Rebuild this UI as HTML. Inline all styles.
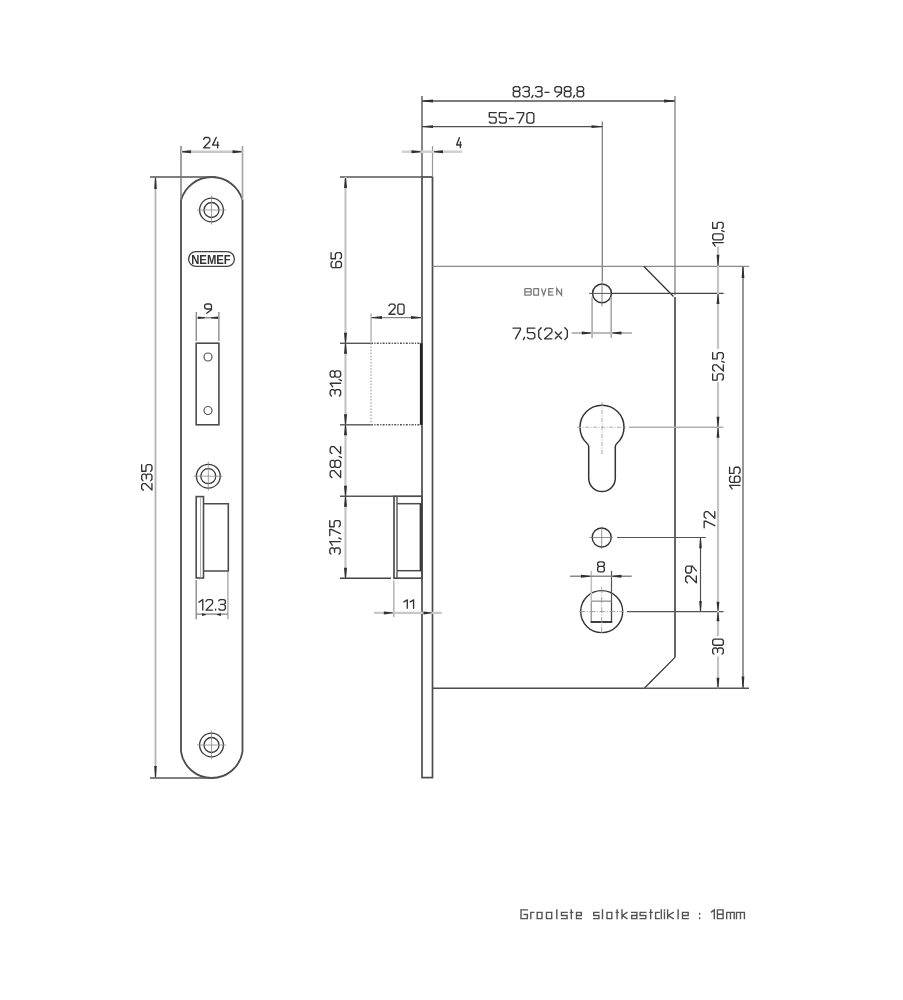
<!DOCTYPE html>
<html><head><meta charset="utf-8"><style>
html,body{margin:0;padding:0;background:#fff;width:903px;height:1000px;overflow:hidden}
svg{display:block;will-change:transform}
text{font-family:"Liberation Sans",sans-serif}
</style></head><body>
<svg width="903" height="1000" viewBox="0 0 903 1000" font-family="Liberation Sans, sans-serif">
<path d="M181,751.55 L181,200.14 A32,32 0 0 1 242.5,200.14 L242.5,751.55 A31.1,31.1 0 0 1 181,751.55 Z" fill="none" stroke="#4c4c4c" stroke-width="1.8" />
<circle cx="211.5" cy="210" r="11.9" fill="none" stroke="#3a3a3a" stroke-width="1.3" />
<circle cx="211.5" cy="210" r="7.5" fill="none" stroke="#3a3a3a" stroke-width="1.3" />
<line x1="197.0" y1="210" x2="226.0" y2="210" stroke="#8a8a8a" stroke-width="0.8" />
<line x1="211.5" y1="195.5" x2="211.5" y2="224.5" stroke="#8a8a8a" stroke-width="0.8" />
<circle cx="208.3" cy="476.2" r="11.9" fill="none" stroke="#3a3a3a" stroke-width="1.3" />
<circle cx="208.3" cy="476.2" r="7.5" fill="none" stroke="#3a3a3a" stroke-width="1.3" />
<line x1="193.8" y1="476.2" x2="222.8" y2="476.2" stroke="#8a8a8a" stroke-width="0.8" />
<line x1="208.3" y1="461.7" x2="208.3" y2="490.7" stroke="#8a8a8a" stroke-width="0.8" />
<circle cx="211.5" cy="745" r="11.9" fill="none" stroke="#3a3a3a" stroke-width="1.3" />
<circle cx="211.5" cy="745" r="7.5" fill="none" stroke="#3a3a3a" stroke-width="1.3" />
<line x1="197.0" y1="745" x2="226.0" y2="745" stroke="#8a8a8a" stroke-width="0.8" />
<line x1="211.5" y1="730.5" x2="211.5" y2="759.5" stroke="#8a8a8a" stroke-width="0.8" />
<rect x="188.6" y="251.6" width="45.8" height="14.8" rx="7.4" fill="none" stroke="#444" stroke-width="1.3"/>
<text x="191.16" y="263.8" font-size="12.61" fill="#333" font-weight="bold" textLength="39.63" lengthAdjust="spacingAndGlyphs" >NEMEF</text>
<rect x="196.2" y="343.2" width="22.7" height="81.6" fill="none" stroke="#4c4c4c" stroke-width="1.6"/>
<circle cx="208" cy="357" r="4" fill="none" stroke="#555" stroke-width="1.2" />
<circle cx="208" cy="410.5" r="4" fill="none" stroke="#555" stroke-width="1.2" />
<line x1="196.3" y1="312" x2="196.3" y2="341" stroke="#8c8c8c" stroke-width="1.4" />
<line x1="218.9" y1="312" x2="218.9" y2="341" stroke="#8c8c8c" stroke-width="1.4" />
<line x1="196.3" y1="317.8" x2="218.9" y2="317.8" stroke="#8c8c8c" stroke-width="1.4" />
<polygon points="205.00,317.35 198.00,316.50 198.00,319.10 205.00,318.25" fill="#303030"/>
<polygon points="211.00,317.35 218.00,316.50 218.00,319.10 211.00,318.25" fill="#303030"/>
<path d="M211.43,308.97 L206.16,308.97 L204.68,307.86 L204.68,305.09 L206.16,303.98 L209.94,303.98 L211.43,305.09 L211.43,309.71 L206.70,313.22" fill="none" stroke="#333" stroke-width="1.35" stroke-linejoin="round" stroke-linecap="round"/>
<rect x="196.2" y="496.6" width="7.3" height="81.4" fill="none" stroke="#4c4c4c" stroke-width="1.6"/>
<line x1="200.5" y1="497" x2="200.5" y2="577.5" stroke="#aaa" stroke-width="0.9" />
<path d="M203.5,503.7 L228.3,503.7 L228.3,571 L203.5,571" fill="none" stroke="#4c4c4c" stroke-width="1.6" />
<line x1="196.2" y1="580" x2="196.2" y2="619.3" stroke="#8c8c8c" stroke-width="1.4" />
<line x1="227.9" y1="572" x2="227.9" y2="619.3" stroke="#aaa" stroke-width="1.4" />
<line x1="196.2" y1="614.1" x2="227.9" y2="614.1" stroke="#8c8c8c" stroke-width="1.4" />
<polygon points="206.00,614.15 202.00,613.30 202.00,615.90 206.00,615.05" fill="#303030"/>
<polygon points="217.00,614.15 221.00,613.30 221.00,615.90 217.00,615.05" fill="#303030"/>
<path d="M198.98,602.11 L202.78,599.57 L202.78,610.12 M206.00,601.37 L207.44,599.57 L211.12,599.57 L212.56,600.84 L212.56,603.37 L206.00,610.12 L212.56,610.12 M215.66,609.07 L215.66,610.12 M218.76,600.84 L220.21,599.57 L223.88,599.57 L225.33,600.84 L225.33,603.16 L223.88,604.43 L220.73,604.43 M223.88,604.43 L225.33,605.69 L225.33,608.86 L223.88,610.12 L220.21,610.12 L218.76,608.86" fill="none" stroke="#333" stroke-width="1.35" stroke-linejoin="round" stroke-linecap="round"/>
<line x1="155.5" y1="177" x2="155.5" y2="778" stroke="#b4b4b4" stroke-width="1.8" />
<line x1="150" y1="177" x2="216" y2="177" stroke="#555" stroke-width="1.5" />
<line x1="150" y1="778" x2="214" y2="778" stroke="#555" stroke-width="1.5" />
<polygon points="155.05,178.00 154.20,189.00 156.80,189.00 155.95,178.00" fill="#303030"/>
<polygon points="155.05,777.00 154.20,766.00 156.80,766.00 155.95,777.00" fill="#303030"/>
<path d="M143.42,490.12 L141.68,488.69 L141.68,485.04 L142.91,483.60 L145.37,483.60 L151.93,490.12 L151.93,483.60 M142.91,480.66 L141.68,479.23 L141.68,475.57 L142.91,474.14 L145.16,474.14 L146.39,475.57 L146.39,478.71 M146.39,475.57 L147.62,474.14 L150.69,474.14 L151.93,475.57 L151.93,479.23 L150.69,480.66 M141.68,464.68 L141.68,471.20 L145.98,471.20 L145.98,466.11 L147.21,464.68 L150.69,464.68 L151.93,466.11 L151.93,469.76 L150.69,471.20" fill="none" stroke="#333" stroke-width="1.35" stroke-linejoin="round" stroke-linecap="round"/>
<line x1="181" y1="146" x2="181" y2="200" stroke="#777" stroke-width="1.4" />
<line x1="242.5" y1="146" x2="242.5" y2="200" stroke="#aaa" stroke-width="1.8" />
<line x1="181" y1="151.8" x2="242.5" y2="151.8" stroke="#c8c8c8" stroke-width="2.4" />
<polygon points="182.00,151.35 191.00,150.30 191.00,153.30 182.00,152.25" fill="#303030"/>
<polygon points="241.50,151.35 232.50,150.30 232.50,153.30 241.50,152.25" fill="#303030"/>
<path d="M203.68,139.23 L205.03,137.48 L208.47,137.48 L209.82,138.72 L209.82,141.20 L203.68,147.83 L209.82,147.83 M216.27,137.48 L212.58,145.13 L218.73,145.13 M217.62,141.82 L217.62,147.83" fill="none" stroke="#333" stroke-width="1.35" stroke-linejoin="round" stroke-linecap="round"/>
<rect x="422" y="177" width="10.5" height="600.6" fill="none" stroke="#4c4c4c" stroke-width="1.7"/>
<line x1="340" y1="177" x2="422" y2="177" stroke="#555" stroke-width="1.5" />
<line x1="422" y1="96" x2="422" y2="177" stroke="#555" stroke-width="1.4" />
<line x1="432.5" y1="146" x2="432.5" y2="177" stroke="#999" stroke-width="1.2" />
<line x1="402" y1="151.7" x2="462" y2="151.7" stroke="#d0d0d0" stroke-width="2.6" />
<polygon points="420.50,151.25 411.50,150.20 411.50,153.20 420.50,152.15" fill="#303030"/>
<polygon points="434.00,151.25 443.00,150.20 443.00,153.20 434.00,152.15" fill="#303030"/>
<path d="M459.37,137.68 L456.57,144.96 L461.22,144.96 M460.39,141.81 L460.39,147.53" fill="none" stroke="#333" stroke-width="1.35" stroke-linejoin="round" stroke-linecap="round"/>
<line x1="675" y1="96" x2="675" y2="295" stroke="#777" stroke-width="1.2" />
<line x1="422" y1="101" x2="675" y2="101" stroke="#505050" stroke-width="1.4" />
<polygon points="423.00,100.55 433.00,99.60 433.00,102.40 423.00,101.45" fill="#303030"/>
<polygon points="674.00,100.55 664.00,99.60 664.00,102.40 674.00,101.45" fill="#303030"/>
<path d="M514.71,86.67 L518.37,86.67 L519.81,87.89 L519.81,90.02 L518.37,91.24 L514.71,91.24 L513.27,90.02 L513.27,87.89 L514.71,86.67 M514.71,91.24 L513.27,92.46 L513.27,95.61 L514.71,96.83 L518.37,96.83 L519.81,95.61 L519.81,92.46 L518.37,91.24 M522.76,87.89 L524.19,86.67 L527.85,86.67 L529.29,87.89 L529.29,90.13 L527.85,91.34 L524.72,91.34 M527.85,91.34 L529.29,92.56 L529.29,95.61 L527.85,96.83 L524.19,96.83 L522.76,95.61 M532.97,95.40 L531.79,97.64 M535.47,87.89 L536.91,86.67 L540.57,86.67 L542.01,87.89 L542.01,90.13 L540.57,91.34 L537.43,91.34 M540.57,91.34 L542.01,92.56 L542.01,95.61 L540.57,96.83 L536.91,96.83 L535.47,95.61 M544.95,92.36 L549.01,92.36 M561.43,92.16 L556.33,92.16 L554.89,90.94 L554.89,87.89 L556.33,86.67 L559.99,86.67 L561.43,87.89 L561.43,92.97 L556.85,96.83 M565.81,86.67 L569.47,86.67 L570.91,87.89 L570.91,90.02 L569.47,91.24 L565.81,91.24 L564.37,90.02 L564.37,87.89 L565.81,86.67 M565.81,91.24 L564.37,92.46 L564.37,95.61 L565.81,96.83 L569.47,96.83 L570.91,95.61 L570.91,92.46 L569.47,91.24 M574.59,95.40 L573.41,97.64 M578.53,86.67 L582.19,86.67 L583.62,87.89 L583.62,90.02 L582.19,91.24 L578.53,91.24 L577.09,90.02 L577.09,87.89 L578.53,86.67 M578.53,91.24 L577.09,92.46 L577.09,95.61 L578.53,96.83 L582.19,96.83 L583.62,95.61 L583.62,92.46 L582.19,91.24" fill="none" stroke="#333" stroke-width="1.35" stroke-linejoin="round" stroke-linecap="round"/>
<line x1="602.3" y1="121.5" x2="602.3" y2="281" stroke="#777" stroke-width="1.2" />
<line x1="422" y1="126.6" x2="602.3" y2="126.6" stroke="#505050" stroke-width="1.4" />
<polygon points="423.00,126.15 433.00,125.20 433.00,128.00 423.00,127.05" fill="#303030"/>
<polygon points="601.50,126.15 591.50,125.20 591.50,128.00 601.50,127.05" fill="#303030"/>
<path d="M496.21,112.67 L489.28,112.67 L489.28,117.06 L494.69,117.06 L496.21,118.32 L496.21,121.87 L494.69,123.12 L490.80,123.12 L489.28,121.87 M506.28,112.67 L499.34,112.67 L499.34,117.06 L504.75,117.06 L506.28,118.32 L506.28,121.87 L504.75,123.12 L500.86,123.12 L499.34,121.87 M509.40,118.53 L513.70,118.53 M516.82,112.67 L523.76,112.67 L523.76,114.14 L519.04,123.12 M528.41,112.67 L532.30,112.67 L533.83,113.93 L533.83,121.87 L532.30,123.12 L528.41,123.12 L526.89,121.87 L526.89,113.93 L528.41,112.67" fill="none" stroke="#333" stroke-width="1.35" stroke-linejoin="round" stroke-linecap="round"/>
<line x1="432.5" y1="266.3" x2="749" y2="266.3" stroke="#8a8a8a" stroke-width="1.3" />
<line x1="643.7" y1="266.3" x2="673.5" y2="296.5" stroke="#333" stroke-width="1.25" />
<line x1="675" y1="297" x2="675" y2="657.4" stroke="#4c4c4c" stroke-width="1.7" />
<line x1="675" y1="657.4" x2="644.3" y2="688.3" stroke="#333" stroke-width="1.25" />
<line x1="432.5" y1="688.3" x2="644.3" y2="688.3" stroke="#4c4c4c" stroke-width="1.6" />
<circle cx="602" cy="293.4" r="9.4" fill="none" stroke="#333" stroke-width="1.5" />
<line x1="602" y1="281" x2="602" y2="306.5" stroke="#777" stroke-width="0.9" />
<line x1="589" y1="293.4" x2="611.5" y2="293.4" stroke="#555" stroke-width="1.0" />
<line x1="611.5" y1="293.4" x2="723.6" y2="293.4" stroke="#444" stroke-width="1.4" />
<path d="M524.85,288.55 L530.35,288.55 L531.15,289.35 L531.15,291.25 L530.55,291.85 L524.85,291.85 M524.85,288.55 L524.85,295.15 L530.35,295.15 L531.15,294.35 L531.15,292.45 L530.55,291.85 M533.75,288.55 L538.45,288.55 L538.45,295.15 L533.75,295.15 L533.75,288.55 M541.45,288.55 L543.70,295.15 L545.95,288.55 M553.55,288.55 L548.75,288.55 L548.75,295.15 L553.55,295.15 M548.75,291.85 L552.75,291.85 M556.75,295.15 L556.75,288.55 L561.55,295.15 L561.55,288.55" fill="none" stroke="#7a7a7a" stroke-width="1.3" stroke-linejoin="miter"/>
<line x1="592.1" y1="297" x2="592.1" y2="338" stroke="#aaa" stroke-width="1.6" />
<line x1="611.2" y1="297" x2="611.2" y2="338" stroke="#aaa" stroke-width="1.6" />
<line x1="571.6" y1="333" x2="632" y2="333" stroke="#bbb" stroke-width="1.8" />
<polygon points="590.80,332.55 581.80,331.50 581.80,334.50 590.80,333.45" fill="#303030"/>
<polygon points="612.50,332.55 621.50,331.50 621.50,334.50 612.50,333.45" fill="#303030"/>
<path d="M513.07,328.18 L520.45,328.18 L520.45,329.67 L515.44,338.82 M524.60,337.33 L523.27,339.68 M534.80,328.18 L527.42,328.18 L527.42,332.65 L533.18,332.65 L534.80,333.93 L534.80,337.55 L533.18,338.82 L529.05,338.82 L527.42,337.55 M541.22,327.75 L538.71,330.52 L538.71,336.91 L541.22,339.46 M544.54,329.99 L546.16,328.18 L550.29,328.18 L551.92,329.45 L551.92,332.01 L544.54,338.82 L551.92,338.82 M555.24,332.01 L561.51,338.82 M561.51,332.01 L555.24,338.82 M564.83,327.75 L567.33,330.52 L567.33,336.91 L564.83,339.46" fill="none" stroke="#333" stroke-width="1.35" stroke-linejoin="round" stroke-linecap="round"/>
<path d="M588.7,478.3 L588.7,446.72 Q588.7,444.72 586.90,443.22 A22,22 0 1 1 617.10,443.22 Q615.3,444.72 615.3,446.72 L615.3,478.3 A13.3,13.3 0 0 1 588.7,478.3" fill="none" stroke="#333" stroke-width="1.5" />
<line x1="602" y1="402" x2="602" y2="454.7" stroke="#999" stroke-width="0.9" stroke-dasharray="4 1.5 1 1.5"/>
<line x1="577" y1="427.2" x2="625.8" y2="427.2" stroke="#aaa" stroke-width="1.1" stroke-dasharray="4 1.5 1 1.5"/>
<line x1="629" y1="427.2" x2="723.4" y2="427.2" stroke="#b0b0b0" stroke-width="1.5" />
<circle cx="601.7" cy="537.5" r="9.5" fill="none" stroke="#333" stroke-width="1.4" />
<line x1="589.5" y1="537.5" x2="612.7" y2="537.5" stroke="#777" stroke-width="0.8" />
<line x1="601.7" y1="526.7" x2="601.7" y2="549" stroke="#777" stroke-width="0.8" />
<line x1="617" y1="537.5" x2="705.7" y2="537.5" stroke="#555" stroke-width="1.2" />
<circle cx="601.7" cy="611.6" r="21" fill="none" stroke="#333" stroke-width="1.4" />
<line x1="591.3" y1="601.2" x2="611.5" y2="601.2" stroke="#a0a0a0" stroke-width="1.5" />
<line x1="591.3" y1="601.2" x2="591.3" y2="622" stroke="#a0a0a0" stroke-width="1.5" />
<line x1="611.5" y1="601.2" x2="611.5" y2="622" stroke="#444" stroke-width="1.3" />
<line x1="590.6" y1="622" x2="612.2" y2="622" stroke="#333" stroke-width="1.9" />
<line x1="601.7" y1="587" x2="601.7" y2="633.5" stroke="#999" stroke-width="0.9" stroke-dasharray="6 1.5 1 1.5"/>
<line x1="579.4" y1="611.6" x2="623" y2="611.6" stroke="#999" stroke-width="0.9" stroke-dasharray="6 1.5 1 1.5"/>
<line x1="627" y1="611.6" x2="723.5" y2="611.6" stroke="#555" stroke-width="1.3" />
<line x1="591.3" y1="570.8" x2="591.3" y2="601" stroke="#c0c0c0" stroke-width="1.6" />
<line x1="611.5" y1="570.8" x2="611.5" y2="601" stroke="#555" stroke-width="1.2" />
<line x1="570" y1="576.3" x2="631.7" y2="576.3" stroke="#888" stroke-width="1.4" />
<polygon points="590.00,575.85 581.00,574.80 581.00,577.80 590.00,576.75" fill="#303030"/>
<polygon points="612.50,575.85 621.50,574.80 621.50,577.80 612.50,576.75" fill="#303030"/>
<path d="M599.14,561.88 L602.86,561.88 L604.32,563.08 L604.32,565.19 L602.86,566.40 L599.14,566.40 L597.67,565.19 L597.67,563.08 L599.14,561.88 M599.14,566.40 L597.67,567.60 L597.67,570.72 L599.14,571.92 L602.86,571.92 L604.32,570.72 L604.32,567.60 L602.86,566.40" fill="none" stroke="#333" stroke-width="1.35" stroke-linejoin="round" stroke-linecap="round"/>
<line x1="644" y1="688.3" x2="749" y2="688.3" stroke="#555" stroke-width="1.4" />
<line x1="718" y1="246.5" x2="718" y2="349" stroke="#c4c4c4" stroke-width="2.2" />
<line x1="718" y1="382" x2="718" y2="636" stroke="#c4c4c4" stroke-width="2.2" />
<line x1="718" y1="656.5" x2="718" y2="688.3" stroke="#c4c4c4" stroke-width="2.2" />
<polygon points="717.55,265.80 716.60,254.80 719.40,254.80 718.45,265.80" fill="#303030"/>
<polygon points="717.55,294.00 716.60,304.00 719.40,304.00 718.45,294.00" fill="#303030"/>
<polygon points="717.55,426.70 716.60,416.70 719.40,416.70 718.45,426.70" fill="#303030"/>
<polygon points="717.55,427.70 716.60,437.70 719.40,437.70 718.45,427.70" fill="#303030"/>
<polygon points="717.55,610.80 716.60,601.80 719.40,601.80 718.45,610.80" fill="#303030"/>
<polygon points="717.55,612.30 716.60,621.30 719.40,621.30 718.45,612.30" fill="#303030"/>
<polygon points="717.55,687.80 716.60,677.80 719.40,677.80 718.45,687.80" fill="#303030"/>
<path d="M715.21,246.12 L712.67,242.69 L723.22,242.69 M712.67,238.49 L712.67,235.18 L713.94,233.88 L721.96,233.88 L723.22,235.18 L723.22,238.49 L721.96,239.80 L713.94,239.80 L712.67,238.49 M721.75,230.55 L724.07,231.62 M712.67,222.37 L712.67,228.29 L717.11,228.29 L717.11,223.68 L718.37,222.37 L721.96,222.37 L723.22,223.68 L723.22,226.99 L721.96,228.29" fill="none" stroke="#333" stroke-width="1.35" stroke-linejoin="round" stroke-linecap="round"/>
<path d="M712.67,373.84 L712.67,380.07 L717.15,380.07 L717.15,375.21 L718.43,373.84 L722.05,373.84 L723.32,375.21 L723.32,378.70 L722.05,380.07 M714.49,371.04 L712.67,369.66 L712.67,366.17 L713.95,364.80 L716.51,364.80 L723.32,371.04 L723.32,364.80 M721.83,361.29 L724.18,362.42 M712.67,352.68 L712.67,358.91 L717.15,358.91 L717.15,354.05 L718.43,352.68 L722.05,352.68 L723.32,354.05 L723.32,357.54 L722.05,358.91" fill="none" stroke="#333" stroke-width="1.35" stroke-linejoin="round" stroke-linecap="round"/>
<path d="M704.17,527.83 L704.17,521.23 L705.67,521.23 L714.82,525.72 M705.99,518.27 L704.17,516.82 L704.17,513.13 L705.45,511.68 L708.01,511.68 L714.82,518.27 L714.82,511.68" fill="none" stroke="#333" stroke-width="1.35" stroke-linejoin="round" stroke-linecap="round"/>
<path d="M713.95,654.12 L712.67,652.78 L712.67,649.37 L713.95,648.02 L716.30,648.02 L717.57,649.37 L717.57,652.29 M717.57,649.37 L718.85,648.02 L722.05,648.02 L723.32,649.37 L723.32,652.78 L722.05,654.12 M712.67,643.93 L712.67,640.52 L713.95,639.18 L722.05,639.18 L723.32,640.52 L723.32,643.93 L722.05,645.28 L713.95,645.28 L712.67,643.93" fill="none" stroke="#333" stroke-width="1.35" stroke-linejoin="round" stroke-linecap="round"/>
<line x1="700.5" y1="537.5" x2="700.5" y2="611.6" stroke="#505050" stroke-width="1.2" />
<polygon points="700.05,538.20 699.20,548.20 701.80,548.20 700.95,538.20" fill="#303030"/>
<polygon points="700.05,610.90 699.20,600.90 701.80,600.90 700.95,610.90" fill="#303030"/>
<path d="M687.49,582.83 L685.67,581.33 L685.67,577.52 L686.95,576.03 L689.51,576.03 L696.32,582.83 L696.32,576.03 M691.43,566.18 L691.43,571.48 L690.15,572.97 L686.95,572.97 L685.67,571.48 L685.67,567.67 L686.95,566.18 L692.28,566.18 L696.32,570.93" fill="none" stroke="#333" stroke-width="1.35" stroke-linejoin="round" stroke-linecap="round"/>
<line x1="743" y1="266.3" x2="743" y2="688.3" stroke="#6a6a6a" stroke-width="1.4" />
<polygon points="742.55,267.00 741.60,278.00 744.40,278.00 743.45,267.00" fill="#303030"/>
<polygon points="742.55,687.60 741.60,676.60 744.40,676.60 743.45,687.60" fill="#303030"/>
<path d="M732.08,488.93 L729.57,485.36 L740.02,485.36 M730.83,476.19 L729.57,477.55 L729.57,480.99 L730.83,482.34 L738.77,482.34 L740.02,480.99 L740.02,477.55 L738.77,476.19 L735.64,476.19 L734.38,477.55 L734.38,482.34 M729.57,467.28 L729.57,473.43 L733.96,473.43 L733.96,468.63 L735.22,467.28 L738.77,467.28 L740.02,468.63 L740.02,472.07 L738.77,473.43" fill="none" stroke="#333" stroke-width="1.35" stroke-linejoin="round" stroke-linecap="round"/>
<line x1="345.5" y1="177" x2="345.5" y2="578.2" stroke="#c4c4c4" stroke-width="2.2" />
<line x1="340" y1="343.3" x2="371" y2="343.3" stroke="#555" stroke-width="1.4" />
<line x1="371" y1="343.3" x2="421" y2="343.3" stroke="#555" stroke-width="1.5" stroke-dasharray="2 1.3 1.2 1.3"/>
<line x1="340" y1="424.8" x2="371" y2="424.8" stroke="#555" stroke-width="1.4" />
<line x1="371" y1="424.8" x2="421" y2="424.8" stroke="#555" stroke-width="1.5" stroke-dasharray="2 1.3 1.2 1.3"/>
<line x1="371" y1="343.3" x2="371" y2="424.8" stroke="#a8a8a8" stroke-width="1.3" stroke-dasharray="1.5 1.6"/>
<line x1="421.2" y1="343.3" x2="421.2" y2="424.8" stroke="#222" stroke-width="2.6" />
<line x1="340" y1="496.2" x2="394" y2="496.2" stroke="#555" stroke-width="1.5" />
<line x1="340" y1="578.2" x2="391" y2="578.2" stroke="#444" stroke-width="1.6" />
<polygon points="345.05,178.00 344.00,188.00 347.00,188.00 345.95,178.00" fill="#303030"/>
<polygon points="345.05,342.80 344.00,332.80 347.00,332.80 345.95,342.80" fill="#303030"/>
<polygon points="345.05,343.80 344.00,353.80 347.00,353.80 345.95,343.80" fill="#303030"/>
<polygon points="345.05,424.30 344.00,414.30 347.00,414.30 345.95,424.30" fill="#303030"/>
<polygon points="345.05,425.30 344.00,435.30 347.00,435.30 345.95,425.30" fill="#303030"/>
<polygon points="345.05,495.70 344.00,485.70 347.00,485.70 345.95,495.70" fill="#303030"/>
<polygon points="345.05,496.70 344.00,506.70 347.00,506.70 345.95,496.70" fill="#303030"/>
<polygon points="345.05,577.70 344.00,567.70 347.00,567.70 345.95,577.70" fill="#303030"/>
<path d="M332.32,261.52 L331.07,262.87 L331.07,266.28 L332.32,267.62 L340.18,267.62 L341.43,266.28 L341.43,262.87 L340.18,261.52 L337.08,261.52 L335.84,262.87 L335.84,267.62 M331.07,252.67 L331.07,258.78 L335.42,258.78 L335.42,254.02 L336.66,252.67 L340.18,252.67 L341.43,254.02 L341.43,257.43 L340.18,258.78" fill="none" stroke="#333" stroke-width="1.35" stroke-linejoin="round" stroke-linecap="round"/>
<path d="M331.43,395.93 L330.18,394.55 L330.18,391.06 L331.43,389.69 L333.73,389.69 L334.98,391.06 L334.98,394.05 M334.98,391.06 L336.24,389.69 L339.37,389.69 L340.62,391.06 L340.62,394.55 L339.37,395.93 M332.68,386.88 L330.18,383.26 L340.62,383.26 M339.16,379.50 L341.46,380.62 M330.18,375.74 L330.18,372.25 L331.43,370.88 L333.62,370.88 L334.88,372.25 L334.88,375.74 L333.62,377.11 L331.43,377.11 L330.18,375.74 M334.88,375.74 L336.13,377.11 L339.37,377.11 L340.62,375.74 L340.62,372.25 L339.37,370.88 L336.13,370.88 L334.88,372.25" fill="none" stroke="#333" stroke-width="1.35" stroke-linejoin="round" stroke-linecap="round"/>
<path d="M331.95,477.62 L330.18,476.07 L330.18,472.11 L331.43,470.56 L333.94,470.56 L340.62,477.62 L340.62,470.56 M330.18,465.83 L330.18,461.87 L331.43,460.32 L333.62,460.32 L334.88,461.87 L334.88,465.83 L333.62,467.38 L331.43,467.38 L330.18,465.83 M334.88,465.83 L336.13,467.38 L339.37,467.38 L340.62,465.83 L340.62,461.87 L339.37,460.32 L336.13,460.32 L334.88,461.87 M339.16,456.34 L341.46,457.61 M331.95,453.64 L330.18,452.09 L330.18,448.13 L331.43,446.57 L333.94,446.57 L340.62,453.64 L340.62,446.57" fill="none" stroke="#333" stroke-width="1.35" stroke-linejoin="round" stroke-linecap="round"/>
<path d="M331.03,554.12 L329.78,552.77 L329.78,549.34 L331.03,547.99 L333.33,547.99 L334.58,549.34 L334.58,552.28 M334.58,549.34 L335.84,547.99 L338.97,547.99 L340.22,549.34 L340.22,552.77 L338.97,554.12 M332.28,545.22 L329.78,541.66 L340.22,541.66 M338.76,537.96 L341.06,539.07 M329.78,535.62 L329.78,529.48 L331.24,529.48 L340.22,533.65 M329.78,520.58 L329.78,526.71 L334.16,526.71 L334.16,521.93 L335.42,520.58 L338.97,520.58 L340.22,521.93 L340.22,525.36 L338.97,526.71" fill="none" stroke="#333" stroke-width="1.35" stroke-linejoin="round" stroke-linecap="round"/>
<line x1="371.1" y1="313.2" x2="371.1" y2="343" stroke="#c4c4c4" stroke-width="1.8" />
<line x1="371.1" y1="317.6" x2="422" y2="317.6" stroke="#888" stroke-width="1.4" />
<polygon points="372.00,317.15 382.00,316.10 382.00,319.10 372.00,318.05" fill="#303030"/>
<polygon points="421.00,317.15 411.00,316.10 411.00,319.10 421.00,318.05" fill="#303030"/>
<path d="M388.88,305.80 L390.24,304.07 L393.70,304.07 L395.06,305.29 L395.06,307.73 L388.88,314.22 L395.06,314.22 M399.20,304.07 L402.66,304.07 L404.02,305.29 L404.02,313.01 L402.66,314.22 L399.20,314.22 L397.84,313.01 L397.84,305.29 L399.20,304.07" fill="none" stroke="#333" stroke-width="1.35" stroke-linejoin="round" stroke-linecap="round"/>
<rect x="394" y="496.2" width="28" height="82" fill="none" stroke="#4c4c4c" stroke-width="1.7"/>
<line x1="397" y1="496.2" x2="397" y2="578.2" stroke="#555" stroke-width="1.4" />
<line x1="397" y1="503.7" x2="422" y2="503.7" stroke="#4c4c4c" stroke-width="1.5" />
<line x1="397" y1="570.7" x2="422" y2="570.7" stroke="#4c4c4c" stroke-width="1.5" />
<line x1="420.6" y1="503.7" x2="420.6" y2="570.7" stroke="#333" stroke-width="1.9" />
<line x1="393.8" y1="580.4" x2="393.8" y2="617.2" stroke="#b8b8b8" stroke-width="1.6" />
<line x1="374" y1="612.9" x2="441.8" y2="612.9" stroke="#c8c8c8" stroke-width="2.4" />
<polygon points="392.80,612.45 383.80,611.40 383.80,614.40 392.80,613.35" fill="#303030"/>
<polygon points="431.50,612.45 423.50,611.40 423.50,614.40 431.50,613.35" fill="#303030"/>
<path d="M403.88,601.90 L407.29,599.88 L407.29,608.32 M410.17,601.90 L413.59,599.88 L413.59,608.32" fill="none" stroke="#333" stroke-width="1.35" stroke-linejoin="round" stroke-linecap="round"/>
<path d="M527.40,909.90 L521.00,909.90 L521.00,918.60 L527.40,918.60 L527.40,914.55 L524.20,914.55 M530.80,918.60 L530.80,912.40 L533.80,912.40 M537.20,912.40 L542.00,912.40 L542.00,918.60 L537.20,918.60 L537.20,912.40 M546.50,912.40 L551.70,912.40 L551.70,918.60 L546.50,918.60 L546.50,912.40 M556.80,909.90 L556.80,918.60 M567.10,912.40 L561.50,912.40 L561.50,915.50 L567.10,915.50 L567.10,918.60 L561.50,918.60 M571.30,909.90 L571.30,918.60 M570.40,912.40 L572.80,912.40 M581.30,918.60 L576.50,918.60 L576.50,912.40 L581.30,912.40 L581.30,915.50 L576.50,915.50 M598.90,912.40 L593.70,912.40 L593.70,915.50 L598.90,915.50 L598.90,918.60 L593.70,918.60 M602.50,909.90 L602.50,918.60 M607.00,912.40 L611.80,912.40 L611.80,918.60 L607.00,918.60 L607.00,912.40 M617.10,909.90 L617.10,918.60 M616.20,912.40 L618.30,912.40 M622.00,909.90 L622.00,918.60 M626.90,912.40 L622.50,915.50 L626.90,918.60 M631.70,912.40 L636.90,912.40 L636.90,918.60 L631.70,918.60 L631.70,915.50 L636.90,915.50 M645.80,912.40 L640.10,912.40 L640.10,915.50 L645.80,915.50 L645.80,918.60 L640.10,918.60 M650.70,909.90 L650.70,918.60 M649.80,912.40 L652.20,912.40 M659.13,912.40 L655.60,912.40 L655.60,918.60 L659.13,918.60 M661.30,909.90 L661.30,918.60 M664.45,912.40 L664.45,918.60 M664.45,909.90 L664.45,910.50 M667.60,909.90 L667.60,918.60 M673.20,912.40 L668.10,915.50 L673.20,918.60 M678.10,909.90 L678.10,918.60 M688.20,918.60 L682.50,918.60 L682.50,912.40 L688.20,912.40 L688.20,915.50 L682.50,915.50 M699.60,913.40 L699.60,914.00 M699.60,918.00 L699.60,918.60 M711.50,911.90 L714.30,909.90 L714.30,918.60 M717.40,909.90 L723.10,909.90 L723.10,918.60 L717.40,918.60 L717.40,909.90 M717.40,914.25 L723.10,914.25 M726.70,918.60 L726.70,912.40 L734.20,912.40 L734.20,918.60 M730.45,912.40 L730.45,918.60 M736.50,918.60 L736.50,912.40 L744.40,912.40 L744.40,918.60 M740.45,912.40 L740.45,918.60" fill="none" stroke="#555" stroke-width="1.4" stroke-linejoin="miter" stroke-linecap="square"/>
</svg>
</body></html>
